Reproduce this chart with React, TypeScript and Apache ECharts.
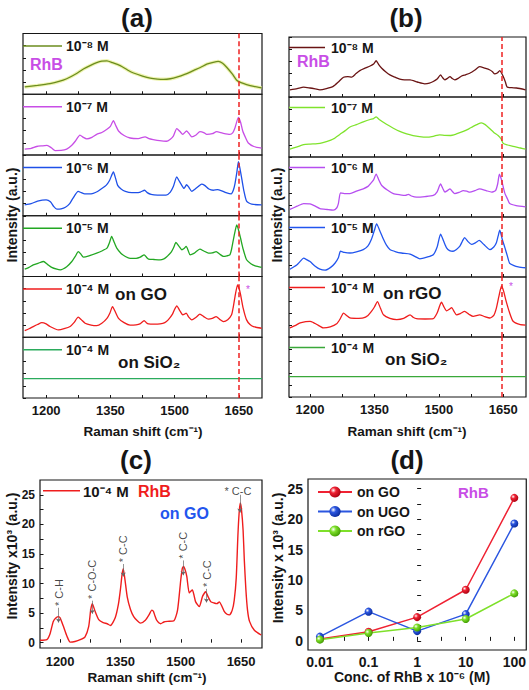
import { useEffect, useRef } from 'react';
import * as echarts from 'echarts';

// ---------------- data ----------------
const ramanTicks = [1200, 1275, 1350, 1425, 1500, 1575, 1650];
const ramanLabels = [1200, 1350, 1500, 1650];
const intensityTicks = [0, 2.5, 5, 7.5, 10, 12.5, 15, 17.5, 20, 22.5, 25];
const intensityLabels = [0, 5, 10, 15, 20, 25];
const concentrations = [0.01, 0.1, 1, 10, 100];
const concLabels = ['0.01', '0.1', '1', '10', '100'];
const concMinorTicks = [-1.5, -0.5, 0.5, 1.5];
const intensityOnGO = [0.3, 1.5, 3.9, 8.4, 23.5];
const intensityOnUGO = [0.7, 4.8, 1.6, 4.4, 19.3];
const intensityOnRGO = [0.2, 1.3, 2.2, 3.6, 7.8];

const stackLabels = ['10⁻⁸ M', '10⁻⁷ M', '10⁻⁶ M', '10⁻⁵ M', '10⁻⁴ M', '10⁻⁴ M'];
const dashA = 1649;
const dashB = 1646;

// panel (a) spectra (relative intensity, 0-100 per sub-panel)
const a1e8: number[][] = [[1150,12],[1180,14.5],[1209,17.5],[1230,21],[1248,25.5],[1268,33],[1287,41.5],[1305,48],[1318,52],[1330,54.5],[1342,55],[1355,52],[1373,47],[1390,40],[1404,35],[1425,30],[1443,26.6],[1460,25],[1474,24.5],[1490,25.5],[1505,28],[1525,33],[1544,39],[1560,44],[1575,49.5],[1590,52.5],[1602,54],[1612,51],[1622,44],[1635,33],[1645,23],[1655,19],[1668,16],[1685,13],[1703,10.6]];
const a1e7: number[][] = [[1150,9.6],[1165,11],[1178,14],[1190,15],[1202,15.8],[1212,12],[1221,7.3],[1235,7.5],[1248,9.6],[1260,16],[1268,22.6],[1279,32.8],[1287,29],[1295,26.6],[1307,29],[1318,33.9],[1330,37],[1342,42.4],[1350,47],[1357,56.5],[1363,48],[1369,39.5],[1382,32],[1396,28],[1415,27],[1431,30],[1440,27],[1450,25.4],[1465,23.5],[1481,22.6],[1490,26],[1497,31],[1505,43.5],[1512,39],[1519,34],[1528,39.5],[1535,34],[1540,30],[1550,33],[1559,38.4],[1568,37],[1575,33.9],[1588,35],[1598,38.4],[1612,36],[1629,33.9],[1636,37],[1641,45],[1649,62],[1654,54],[1659,39.5],[1666,28],[1672,19.8],[1685,14],[1703,11.3]];
const a1e6: number[][] = [[1150,18],[1165,20],[1180,24],[1200,26],[1210,23],[1218,15],[1225,11],[1235,11.5],[1245,14],[1255,20],[1262,28],[1275,40],[1282,38],[1290,36],[1300,36],[1310,37],[1320,40],[1330,45],[1340,50],[1348,58],[1357,72],[1362,62],[1367,50],[1375,44],[1385,40],[1400,38],[1410,38],[1420,39],[1430,42],[1436,38],[1445,35],[1460,34],[1480,34],[1490,39],[1497,48],[1505,64],[1510,58],[1515,52],[1522,45],[1528,51],[1534,46],[1540,40],[1548,44],[1555,48],[1563,52],[1570,50],[1580,44],[1590,42],[1600,43],[1610,41],[1620,38],[1632,36],[1637,42],[1641,53],[1645,70],[1649,89],[1653,76],[1657,60],[1662,40],[1668,24],[1680,19],[1703,18]];
const a1e5: number[][] = [[1150,12],[1160,15],[1170,19],[1182,22],[1194,24.7],[1203,20],[1213,15],[1225,12],[1233,11],[1248,16],[1260,24.7],[1268,33],[1275,41],[1281,37],[1287,32],[1300,34],[1318,38.5],[1330,42],[1342,46.7],[1348,56],[1353,66],[1358,58],[1365,46.7],[1375,38],[1385,33],[1396,30],[1410,30],[1420,32],[1429,35.7],[1435,31],[1439,28.6],[1452,28],[1466,27.5],[1475,29],[1481,32],[1492,40],[1498,48],[1503,56],[1510,50],[1517,44],[1522,46],[1527,49.5],[1532,42],[1536,35.7],[1545,38],[1552,42],[1559,45],[1568,42],[1579,38.5],[1588,39],[1597,41],[1605,37],[1614,33],[1622,34],[1629,35.7],[1633,45],[1637,60],[1641,74],[1645,85],[1649,77],[1654,63],[1660,45],[1668,27.5],[1678,21],[1688,17.6],[1703,15]];
const a1e4GO: number[][] = [[1150,11],[1160,14],[1170,17.6],[1180,21],[1190,24],[1200,22],[1209,17.6],[1220,14],[1229,12],[1242,14],[1256,17.6],[1265,24],[1275,33],[1282,29],[1291,23],[1305,20],[1318,19],[1330,23],[1342,31],[1349,40],[1355,50.5],[1360,44],[1369,31],[1382,24],[1396,20],[1410,20.5],[1419,22],[1429,27.5],[1434,24],[1439,22],[1452,21.5],[1466,22],[1477,24],[1485,28.6],[1495,38],[1500,46],[1505,51.6],[1512,44],[1519,37],[1523,38],[1527,39.6],[1533,33],[1540,28.6],[1550,33],[1559,38],[1568,34],[1579,29.7],[1588,31],[1597,34],[1606,29],[1614,25.8],[1624,29],[1633,37],[1637,50],[1641,67],[1647,86],[1651,79],[1654,70],[1660,48],[1668,28.6],[1676,21],[1684,17.6],[1703,14.8]];
const a1e4SiO2: number[][] = [[1146,32],[1704,32]];

// panel (b) spectra
const b1e8: number[][] = [[1153,12],[1170,14],[1185,16.5],[1200,15],[1212,13.5],[1223,12],[1238,14],[1254,17.6],[1266,25],[1278,33],[1288,34],[1297,33],[1307,39],[1316,44],[1328,48],[1340,51.6],[1348,55],[1354,60.4],[1360,54],[1367,47.8],[1376,42],[1386,36.8],[1398,33],[1409,29.7],[1420,28.6],[1433,28.6],[1450,25],[1467,22],[1478,23],[1487,25.8],[1496,30],[1504,36.8],[1509,32],[1514,28.6],[1520,31],[1526,34],[1531,31],[1537,28.6],[1545,31],[1553,35],[1562,37],[1572,39.6],[1584,45],[1595,50.5],[1607,48],[1619,45],[1625,42],[1630,38.5],[1636,40],[1642,44],[1646,40],[1650,34],[1655,25],[1659,16.5],[1670,15.5],[1681,15],[1702,12]];
const b1e7: number[][] = [[1153,13],[1170,17],[1185,20.5],[1200,21.5],[1223,22.7],[1240,26],[1254,30],[1270,38],[1282,44],[1293,50],[1308,54],[1324,58.5],[1340,62.5],[1348,64],[1354,67],[1362,62],[1378,54.5],[1394,48],[1409,42.6],[1425,38.5],[1440,35.8],[1455,34],[1471,33],[1487,34.5],[1502,37],[1514,36],[1526,35.8],[1541,38.5],[1557,42.6],[1570,47],[1580,51],[1590,54.5],[1599,56.8],[1608,54],[1619,47],[1628,41],[1638,35.8],[1645,30],[1650,22.7],[1660,20],[1673,17.6],[1690,15],[1702,13]];
const b1e6: number[][] = [[1153,12.6],[1170,18],[1185,22.4],[1200,22],[1212,18],[1223,14],[1240,12.5],[1254,11.5],[1262,15],[1266,22.4],[1271,40],[1280,39],[1293,39],[1308,43],[1324,47],[1335,51],[1340,55],[1348,62],[1354,71.6],[1360,62],[1367,52.5],[1380,45],[1394,39],[1410,37],[1422,36],[1429,37.7],[1436,35],[1448,33],[1468,34],[1487,36],[1496,42],[1504,55],[1509,48],[1514,41.5],[1520,44],[1526,47],[1531,43],[1537,39],[1547,41],[1557,44],[1565,43],[1572,41.5],[1584,44],[1595,47],[1610,44],[1623,41.5],[1632,44],[1637,55],[1641,71.6],[1646,62],[1650,50],[1654,39],[1660,30],[1665,22.4],[1680,19],[1702,17]];
const b1e5: number[][] = [[1153,13],[1169,20],[1177,26],[1185,31.4],[1192,29],[1200,25.7],[1212,18],[1223,13],[1235,11.4],[1248,16],[1258,22.9],[1266,32],[1271,43],[1280,41],[1293,40],[1308,42],[1324,45.7],[1335,52],[1343,62.9],[1350,78],[1355,88.6],[1362,78],[1371,62.9],[1378,53],[1386,45.7],[1400,42],[1413,40],[1433,38.3],[1445,34],[1456,30.3],[1472,33],[1487,37],[1496,50],[1504,71.4],[1511,60],[1518,48.6],[1525,44],[1533,42.9],[1541,46],[1549,51.4],[1555,60],[1560,65.7],[1568,59],[1576,54.3],[1585,57],[1594,61],[1605,54],[1619,45.7],[1628,50],[1634,57],[1638,68],[1642,78],[1648,62],[1654,48.6],[1660,34],[1665,22.9],[1675,19],[1685,17],[1702,15.4]];
const b1e4rGO: number[][] = [[1153,15.3],[1165,19],[1177,23.5],[1190,25.5],[1200,26.2],[1208,24],[1216,20.8],[1231,15.3],[1247,17],[1262,21.9],[1270,30],[1278,39.9],[1285,36],[1293,31.7],[1308,31],[1324,31.7],[1335,36],[1343,42.6],[1350,50],[1357,59],[1364,48],[1371,37],[1386,31],[1402,29],[1418,31],[1433,37],[1440,33],[1448,30.6],[1468,30],[1487,30.6],[1496,40],[1502,52],[1506,58],[1512,50],[1518,43.7],[1524,46],[1530,49],[1535,43],[1541,37],[1550,39],[1560,42.6],[1570,38],[1580,34.4],[1595,37],[1607,34],[1619,31.7],[1628,36],[1634,48],[1640,68],[1646,85],[1651,76],[1657,59],[1665,40],[1673,26.2],[1688,21],[1702,19.7]];
const b1e4SiO2: number[][] = [[1150,34],[1703,34]];

// panel (c) spectrum, intensity x10^3
const c1e4GO: number[][] = [[1150,0.4],[1167,0.5],[1175,1.5],[1183,3.6],[1190,4.2],[1196,4.4],[1200,4.2],[1208,2.8],[1217,1.1],[1225,0.1],[1237,0.2],[1250,0.5],[1262,1.0],[1271,2.7],[1276,5.5],[1280,6.6],[1287,5.3],[1296,3.9],[1307,3.4],[1317,3.2],[1325,2.9],[1337,4.2],[1345,6.5],[1350,9],[1354,11.5],[1357,12.5],[1361,10.8],[1367,7.7],[1375,5.6],[1383,4.4],[1392,3.7],[1400,3.3],[1412,3.8],[1421,4.7],[1428,5.5],[1432,5.3],[1436,4.5],[1440,3.8],[1450,3.2],[1458,3.5],[1467,3.6],[1483,3.7],[1492,5.5],[1500,10.6],[1504,12.6],[1507,12.9],[1511,12.3],[1515,11.2],[1521,8.4],[1525,8.7],[1529,8.9],[1533,8.0],[1537,6.9],[1546,6.1],[1554,7.8],[1559,8.4],[1562,8.6],[1567,7.9],[1575,6.9],[1583,6.7],[1590,6.6],[1596,6.9],[1602,6.2],[1608,5.3],[1615,4.8],[1621,4.7],[1628,5.5],[1633,7.2],[1638,11],[1642,18],[1645,21.8],[1648,23.6],[1651,22.5],[1655,19],[1658,14],[1662,8.9],[1666,5.5],[1671,3.6],[1683,2.1],[1700,1.3]];
const annoPeaks = [1196, 1280, 1357, 1506, 1564];
const annoBase = [6.2, 7.4, 13.6, 14.2, 9.4];
const annoTip = [3.4, 4.9, 11.2, 11.4, 6.8];
const annoText = ['* C-H', '* C-O-C', '* C-C', '* C-C', '* C-C'];
const topAnno = [1642, 25.7, '* C-C'];
const topArrow = [1647, 25.0, 22.0];

// ---------------- layout / style ----------------
const FONT = '"Liberation Sans", Arial, Helvetica, sans-serif';
const INK = '#161616';
const colorsA = ['#6b8c1e', '#c84ee6', '#1e50e8', '#22a722', '#ef1d1d', '#2bab5c'];
const colorsB = ['#6a1414', '#7fe32c', '#b64ef0', '#2255ee', '#ef1d1d', '#3aa83a'];
const plain = (v: number) => String(v);

function txt(text: string, x: number, y: number, size: number, color = INK, opts: any = {}) {
  return {
    type: 'text', x, y, rotation: opts.rotation || 0, z: 50,
    style: {
      text, fill: color,
      font: `${opts.weight || 'bold'} ${size}px ${FONT}`,
      align: opts.align || 'left', verticalAlign: 'middle',
      textAlign: opts.align || 'left', textVerticalAlign: 'middle',
    },
  };
}

function buildOption() {
  const grid: any[] = [];
  const xAxis: any[] = [];
  const yAxis: any[] = [];
  const series: any[] = [];
  const graphic: any[] = [];

  const addStack = (
    box: { left: number; right: number; top: number; bottom: number },
    spectra: number[][][], colors: string[], dash: number, xMin: number, xMax: number,
    legendX0: number, legendX1: number, legendDy: number, glow: boolean,
  ) => {
    const h = (box.bottom - box.top) / spectra.length;
    spectra.forEach((data, i) => {
      const gi = grid.length;
      const top = box.top + i * h;
      const isBottom = i === spectra.length - 1;
      grid.push({ left: box.left, top, width: box.right - box.left, height: h, show: true, borderColor: INK, borderWidth: 1.2 });
      xAxis.push({
        gridIndex: gi, type: 'value', min: xMin, max: xMax,
        axisLine: { show: false }, splitLine: { show: false },
        axisTick: { show: true, inside: true, length: 3, customValues: ramanTicks, lineStyle: { color: INK, width: 1 } },
        axisLabel: { show: isBottom, customValues: ramanLabels, formatter: plain, color: INK, fontWeight: 'bold', fontSize: 13, fontFamily: FONT, margin: 6 },
      });
      yAxis.push({
        gridIndex: gi, type: 'value', min: 0, max: 100, interval: 20,
        axisLine: { show: false }, splitLine: { show: false },
        axisTick: { show: true, inside: true, length: 3, lineStyle: { color: INK, width: 1 } },
        axisLabel: { show: false },
      });
      if (glow && i === 0) {
        series.push({
          type: 'line', xAxisIndex: gi, yAxisIndex: gi, data, symbol: 'none', smooth: 0.2, silent: true,
          lineStyle: { color: 'rgba(232,240,150,0.75)', width: 3.5 },
        });
      }
      series.push({
        type: 'line', xAxisIndex: gi, yAxisIndex: gi, data, symbol: 'none', smooth: 0.2,
        lineStyle: { color: colors[i], width: 1.3 },
        markLine: {
          silent: true, symbol: ['none', 'none'], label: { show: false },
          lineStyle: { color: '#ee2222', type: [5, 3], width: 1.5 },
          data: [{ xAxis: dash }],
        },
      });
      const ly = top + legendDy;
      graphic.push({ type: 'line', shape: { x1: box.left, y1: ly, x2: legendX0, y2: ly }, style: { stroke: colors[i], lineWidth: 1.5 }, z: 50 });
      graphic.push(txt(stackLabels[i], legendX1, ly, 14));
    });
  };

  addStack({ left: 23, right: 262, top: 33.5, bottom: 398 },
    [a1e8, a1e7, a1e6, a1e5, a1e4GO, a1e4SiO2], colorsA, dashA, 1146, 1704, 62, 66, 12.5, true);
  addStack({ left: 289, right: 526, top: 37, bottom: 397 },
    [b1e8, b1e7, b1e6, b1e5, b1e4rGO, b1e4SiO2], colorsB, dashB, 1151, 1703, 325, 331, 10.5, false);

  // ---- panel (c)
  const gc = grid.length;
  grid.push({ left: 40, top: 480, width: 222, height: 168, show: true, borderColor: INK, borderWidth: 1.2 });
  xAxis.push({
    gridIndex: gc, type: 'value', min: 1150, max: 1702,
    axisLine: { show: false }, splitLine: { show: false },
    axisTick: { show: true, inside: true, length: 3.5, customValues: ramanTicks, lineStyle: { color: INK } },
    axisLabel: { customValues: ramanLabels, formatter: plain, color: INK, fontWeight: 'bold', fontSize: 13, fontFamily: FONT, margin: 7 },
  });
  yAxis.push({
    gridIndex: gc, type: 'value', min: -0.9, max: 27.5,
    axisLine: { show: false }, splitLine: { show: false },
    axisTick: { show: true, inside: true, length: 3.5, customValues: intensityTicks, lineStyle: { color: INK } },
    axisLabel: { customValues: intensityLabels, formatter: plain, color: INK, fontWeight: 'bold', fontSize: 12, fontFamily: FONT, margin: 5 },
  });
  series.push({
    type: 'line', xAxisIndex: gc, yAxisIndex: gc, data: c1e4GO, symbol: 'none', smooth: 0.2,
    lineStyle: { color: '#ef1d1d', width: 1.4 },
  });
  const arrows: any[] = annoPeaks.map((x, i) => [{ coord: [x, annoBase[i] - 0.3] }, { coord: [x, annoTip[i]] }]);
  arrows.push([{ coord: [topArrow[0], topArrow[1]] }, { coord: [topArrow[0], topArrow[2]] }]);
  series.push({
    type: 'scatter', xAxisIndex: gc, yAxisIndex: gc, symbolSize: 0, silent: true,
    data: annoPeaks.map((x, i) => [x, annoBase[i], annoText[i]]),
    label: {
      show: true, position: [0, 0], rotate: 90, align: 'left', verticalAlign: 'middle',
      formatter: (p: any) => p.data[2], color: INK, fontSize: 11, fontFamily: FONT,
    },
    markLine: {
      silent: true, symbol: ['none', 'arrow'], symbolSize: 4, label: { show: false },
      lineStyle: { color: '#666', width: 0.7, type: 'solid' }, data: arrows,
    },
  });
  series.push({
    type: 'scatter', xAxisIndex: gc, yAxisIndex: gc, symbolSize: 0, silent: true,
    data: [topAnno],
    label: {
      show: true, position: [0, 0], align: 'center', verticalAlign: 'middle',
      formatter: (p: any) => p.data[2], color: INK, fontSize: 11, fontFamily: FONT,
    },
  });

  // ---- panel (d)
  const gd = grid.length;
  grid.push({ left: 308, top: 479, width: 219, height: 171, show: true, borderColor: INK, borderWidth: 1.2 });
  const concLog = concentrations.map((c) => Math.log10(c));
  xAxis.push({
    gridIndex: gd, type: 'value', min: -2.246, max: 2.246,
    axisLine: { show: false }, splitLine: { show: false },
    axisTick: { show: true, inside: true, length: 4, customValues: concLog.concat(concMinorTicks), lineStyle: { color: INK } },
    axisLabel: {
      customValues: concLog, color: INK, fontWeight: 'bold', fontSize: 14, fontFamily: FONT, margin: 5,
      formatter: (v: number) => {
        const idx = concLog.findIndex((c) => Math.abs(c - v) < 1e-6);
        return idx >= 0 ? concLabels[idx] : '';
      },
    },
  });
  yAxis.push({
    gridIndex: gd, type: 'value', min: -1.5, max: 26.6,
    axisLine: { show: false }, splitLine: { show: false },
    axisTick: { show: true, inside: true, length: 4, customValues: intensityTicks, lineStyle: { color: INK } },
    axisLabel: { customValues: intensityLabels, formatter: plain, color: INK, fontWeight: 'bold', fontSize: 14, fontFamily: FONT, margin: 5 },
  });
  const ball = (c: string, dark: string) => new echarts.graphic.RadialGradient(0.35, 0.35, 0.7, [
    { offset: 0, color: '#ffffff' }, { offset: 0.35, color: c }, { offset: 1, color: dark },
  ]);
  const dSeries = [
    { name: 'on GO', vals: intensityOnGO, color: '#ef2233', dark: '#a80010' },
    { name: 'on UGO', vals: intensityOnUGO, color: '#2b56e0', dark: '#0a2a9a' },
    { name: 'on rGO', vals: intensityOnRGO, color: '#7ee02a', dark: '#3f9a00' },
  ];
  dSeries.forEach((s) => {
    series.push({
      type: 'line', name: s.name, xAxisIndex: gd, yAxisIndex: gd,
      data: concLog.map((x, i) => [x, s.vals[i]]),
      symbol: 'circle', symbolSize: 8, showSymbol: true,
      lineStyle: { color: s.color, width: 1.5 },
      itemStyle: { color: ball(s.color, s.dark) },
    });
  });

  // ---- titles and texts
  graphic.push(txt('(a)', 137, 18, 26, INK, { align: 'center' }));
  graphic.push(txt('(b)', 406, 18, 26, INK, { align: 'center' }));
  graphic.push(txt('(c)', 136, 460, 26, INK, { align: 'center' }));
  graphic.push(txt('(d)', 407, 460, 26, INK, { align: 'center' }));

  graphic.push(txt('Intensity (a.u.)', 12, 215, 14, INK, { align: 'center', rotation: Math.PI / 2 }));
  graphic.push(txt('Intensity (a.u.)', 277, 215, 14, INK, { align: 'center', rotation: Math.PI / 2 }));
  graphic.push(txt('Intensity x10³ (a.u.)', 12, 556, 14, INK, { align: 'center', rotation: Math.PI / 2 }));
  graphic.push(txt('Intensity x 10³ (a.u.)', 278, 558, 14, INK, { align: 'center', rotation: Math.PI / 2 }));

  graphic.push(txt('Raman shift (cm⁻¹)', 143, 431, 13.5, INK, { align: 'center' }));
  graphic.push(txt('Raman shift (cm⁻¹)', 407, 431, 13.5, INK, { align: 'center' }));
  graphic.push(txt('Raman shift (cm⁻¹)', 147, 677, 13.5, INK, { align: 'center' }));
  graphic.push(txt('Conc. of RhB x 10⁻⁶ (M)', 412, 677, 14, INK, { align: 'center' }));

  graphic.push(txt('RhB', 30, 64, 16, '#c84ee6'));
  graphic.push(txt('RhB', 297, 61, 16, '#c84ee6'));
  graphic.push(txt('on GO', 115, 294.5, 17));
  graphic.push(txt('on SiO₂', 118, 362, 17));
  graphic.push(txt('on rGO', 383, 293.5, 17));
  graphic.push(txt('on SiO₂', 385, 359, 17));
  graphic.push(txt('*', 248, 289, 10, '#c84ee6', { weight: 'normal', align: 'center' }));
  graphic.push(txt('*', 511, 286, 10, '#c84ee6', { weight: 'normal', align: 'center' }));

  // panel (c) legend & labels
  graphic.push({ type: 'line', shape: { x1: 43, y1: 490.7, x2: 80, y2: 490.7 }, style: { stroke: '#ef1d1d', lineWidth: 1.5 }, z: 50 });
  graphic.push(txt('10⁻⁴ M', 83, 491, 15));
  graphic.push(txt('RhB', 138, 491, 16, '#ef1d1d'));
  graphic.push(txt('on GO', 160, 513, 16, '#2255ee'));
  // panel (d) label
  graphic.push(txt('RhB', 458, 492, 15, '#c84ee6'));

  return {
    animation: false,
    backgroundColor: '#ffffff',
    grid, xAxis, yAxis, series, graphic,
    legend: {
      data: ['on GO', 'on UGO', 'on rGO'],
      left: 312, top: 480, orient: 'vertical',
      itemWidth: 34, itemHeight: 14, itemGap: 5.5,
      textStyle: { color: INK, fontWeight: 'bold', fontSize: 14, fontFamily: FONT, lineHeight: 14 },
      selectedMode: false,
    },
  };
}

export default function App() {
  const ref = useRef<HTMLDivElement>(null);
  useEffect(() => {
    document.body.style.margin = '0';
    const chart = echarts.init(ref.current!, null, { renderer: 'svg' });
    chart.setOption(buildOption() as any);
    return () => chart.dispose();
  }, []);
  return (
    <div
      ref={ref}
      style={{ position: 'absolute', left: 0, top: 0, width: 529, height: 690, background: '#fff' }}
    />
  );
}
